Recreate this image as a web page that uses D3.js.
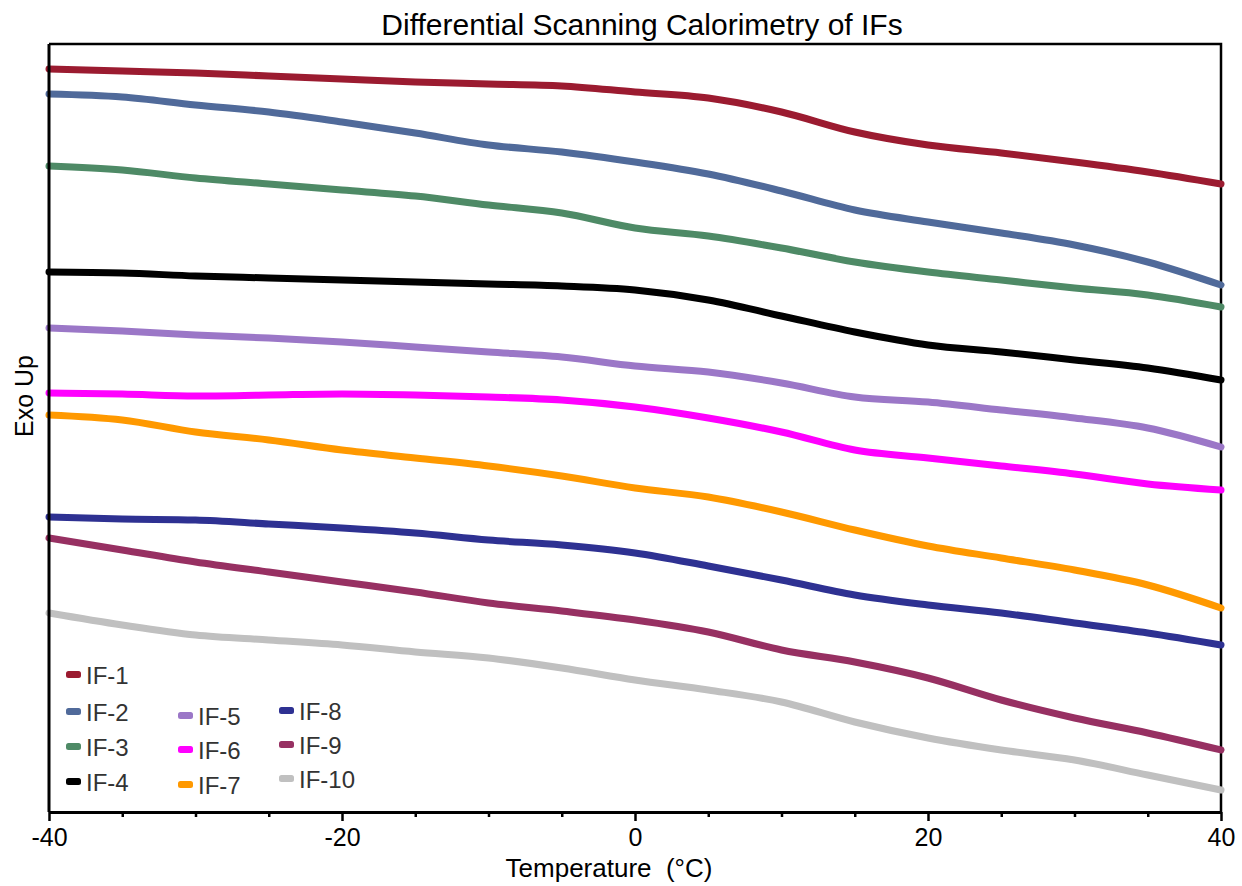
<!DOCTYPE html>
<html>
<head>
<meta charset="utf-8">
<script src="https://cdn.jsdelivr.net/npm/d3@7"></script>
<style>
  body { margin: 0; background: #fff; }
  svg { font-family: "Liberation Sans", Arial, sans-serif; }
</style>
</head>
<body>
<svg id="chart" width="1242" height="886"></svg>
<script>
// temperatures (°C) where the curves were read
var temps = [-40,-35,-30,-25,-20,-15,-10,-5,0,5,10,15,20,25,30,35,40];

// heat flow, arbitrary units (exo up), one array per sample
var if1  = [74.3,74.1,73.9,73.6,73.3,73.0,72.8,72.6,72.0,71.4,70.0,68.0,66.7,65.9,65.0,64.0,62.8];
var if2  = [71.8,71.5,70.7,70.0,69.0,67.9,66.7,66.0,65.0,63.8,62.1,60.2,59.0,57.9,56.7,55.0,52.7];
var if3  = [64.6,64.2,63.4,62.8,62.2,61.6,60.7,59.9,58.4,57.6,56.4,55.0,54.0,53.2,52.4,51.7,50.5];
var if4  = [54.0,53.9,53.6,53.4,53.2,53.0,52.8,52.6,52.2,51.2,49.6,48.0,46.7,46.0,45.2,44.4,43.2];
var if5  = [48.4,48.1,47.7,47.4,47.0,46.5,46.0,45.5,44.6,44.0,42.9,41.5,41.0,40.2,39.4,38.4,36.5];
var if6  = [41.9,41.8,41.6,41.7,41.8,41.7,41.5,41.2,40.5,39.4,38.0,36.2,35.4,34.6,33.8,32.8,32.2];
var if7  = [39.7,39.2,38.0,37.2,36.2,35.4,34.6,33.6,32.4,31.5,30.0,28.2,26.6,25.4,24.2,22.7,20.4];
var if8  = [29.5,29.3,29.2,28.8,28.4,27.9,27.2,26.7,25.9,24.6,23.2,21.7,20.7,19.9,18.9,17.9,16.7];
var if9  = [27.4,26.2,25.0,24.0,23.0,22.0,20.9,20.1,19.2,18.0,16.2,15.0,13.4,11.2,9.4,7.9,6.2];
var if10 = [19.9,18.7,17.7,17.2,16.7,16.0,15.4,14.4,13.2,12.2,11.0,9.0,7.4,6.2,5.2,3.7,2.2];

var names  = ["IF-1","IF-2","IF-3","IF-4","IF-5","IF-6","IF-7","IF-8","IF-9","IF-10"];
var colors = ["#9b1b30","#506a9a","#4e8a66","#000000","#9b77c7","#ff00ff","#ff9900","#2e3192","#973062","#c0c0c0"];
var values = [if1,if2,if3,if4,if5,if6,if7,if8,if9,if10];

var majorTicks = [-40,-20,0,20,40];
var minorTicks = [-35,-30,-25,-15,-10,-5,5,10,15,25,30,35];

var margin = {left: 49, right: 21, top: 44, bottom: 74};
var W = 1242, H = 886;

var svg = d3.select("#chart");

var x = d3.scaleLinear().domain([-40, 40]).range([margin.left, W - margin.right]);
var y = d3.scaleLinear().domain([0, 76.8]).range([H - margin.bottom, margin.top]);

// frame (top + right)
svg.append("path")
    .attr("d", "M" + x(-40) + "," + y(76.8) + "H" + x(40) + "V" + y(0))
    .attr("fill", "none")
    .attr("stroke", "#000")
    .attr("stroke-width", 2.5);

// curves
var line = d3.line()
    .x(function(d) { return x(d[0]); })
    .y(function(d) { return y(d[1]); })
    .curve(d3.curveMonotoneX);

values.forEach(function(vals, i) {
    var pts = temps.map(function(t, j) { return [t, vals[j]]; });
    svg.append("path")
        .datum(pts)
        .attr("class", "curve")
        .attr("d", line)
        .attr("fill", "none")
        .attr("stroke", colors[i])
        .attr("stroke-width", 7)
        .attr("stroke-linejoin", "round")
        .attr("stroke-linecap", "round");
});

// left axis line (no ticks)
svg.append("line")
    .attr("x1", x(-40)).attr("x2", x(-40))
    .attr("y1", y(76.8)).attr("y2", y(0))
    .attr("stroke", "#000").attr("stroke-width", 3);

// bottom axis
var xAxis = svg.append("g")
    .attr("transform", "translate(0," + y(0) + ")")
    .call(d3.axisBottom(x).tickValues(majorTicks).tickSize(9).tickSizeOuter(0).tickPadding(7)
        .tickFormat(function(d) { return d < 0 ? "-" + Math.abs(d) : d; }));
xAxis.select(".domain").attr("stroke-width", 3);
xAxis.selectAll(".tick line").attr("stroke-width", 2.5);
xAxis.selectAll(".tick text")
    .attr("font-size", 25)
    .attr("fill", "#000")
    .style("font-family", "Liberation Sans, Arial, sans-serif");

svg.append("g")
    .attr("transform", "translate(0," + y(0) + ")")
    .call(d3.axisBottom(x).tickValues(minorTicks).tickSize(5).tickFormat(""))
    .call(function(g) { g.select(".domain").remove(); })
    .selectAll(".tick line").attr("stroke-width", 2.5);

// titles
svg.append("text")
    .attr("x", 642).attr("y", 35)
    .attr("text-anchor", "middle")
    .attr("font-size", 30)
    .text("Differential Scanning Calorimetry of IFs");

svg.append("text")
    .attr("x", 609).attr("y", 877)
    .attr("text-anchor", "middle")
    .attr("font-size", 26)
    .attr("xml:space", "preserve")
    .text("Temperature  (°C)");

svg.append("text")
    .attr("transform", "translate(33,396) rotate(-90)")
    .attr("text-anchor", "middle")
    .attr("font-size", 25)
    .text("Exo Up");

// legend: three columns
var legendPos = [
    [66, 675], [66, 712], [66, 747], [66, 782],
    [178, 716], [178, 750], [178, 785],
    [279, 711], [279, 745], [279, 779]
];
var legend = svg.append("g").attr("class", "legend");
names.forEach(function(n, i) {
    var g = legend.append("g").attr("transform", "translate(" + legendPos[i][0] + "," + legendPos[i][1] + ")");
    g.append("rect")
        .attr("x", 0).attr("y", -4)
        .attr("width", 15).attr("height", 7)
        .attr("rx", 2.5)
        .attr("fill", colors[i]);
    g.append("text")
        .attr("x", 20).attr("y", 9)
        .attr("font-size", 24)
        .attr("fill", "#333")
        .text(n);
});
</script>
</body>
</html>
